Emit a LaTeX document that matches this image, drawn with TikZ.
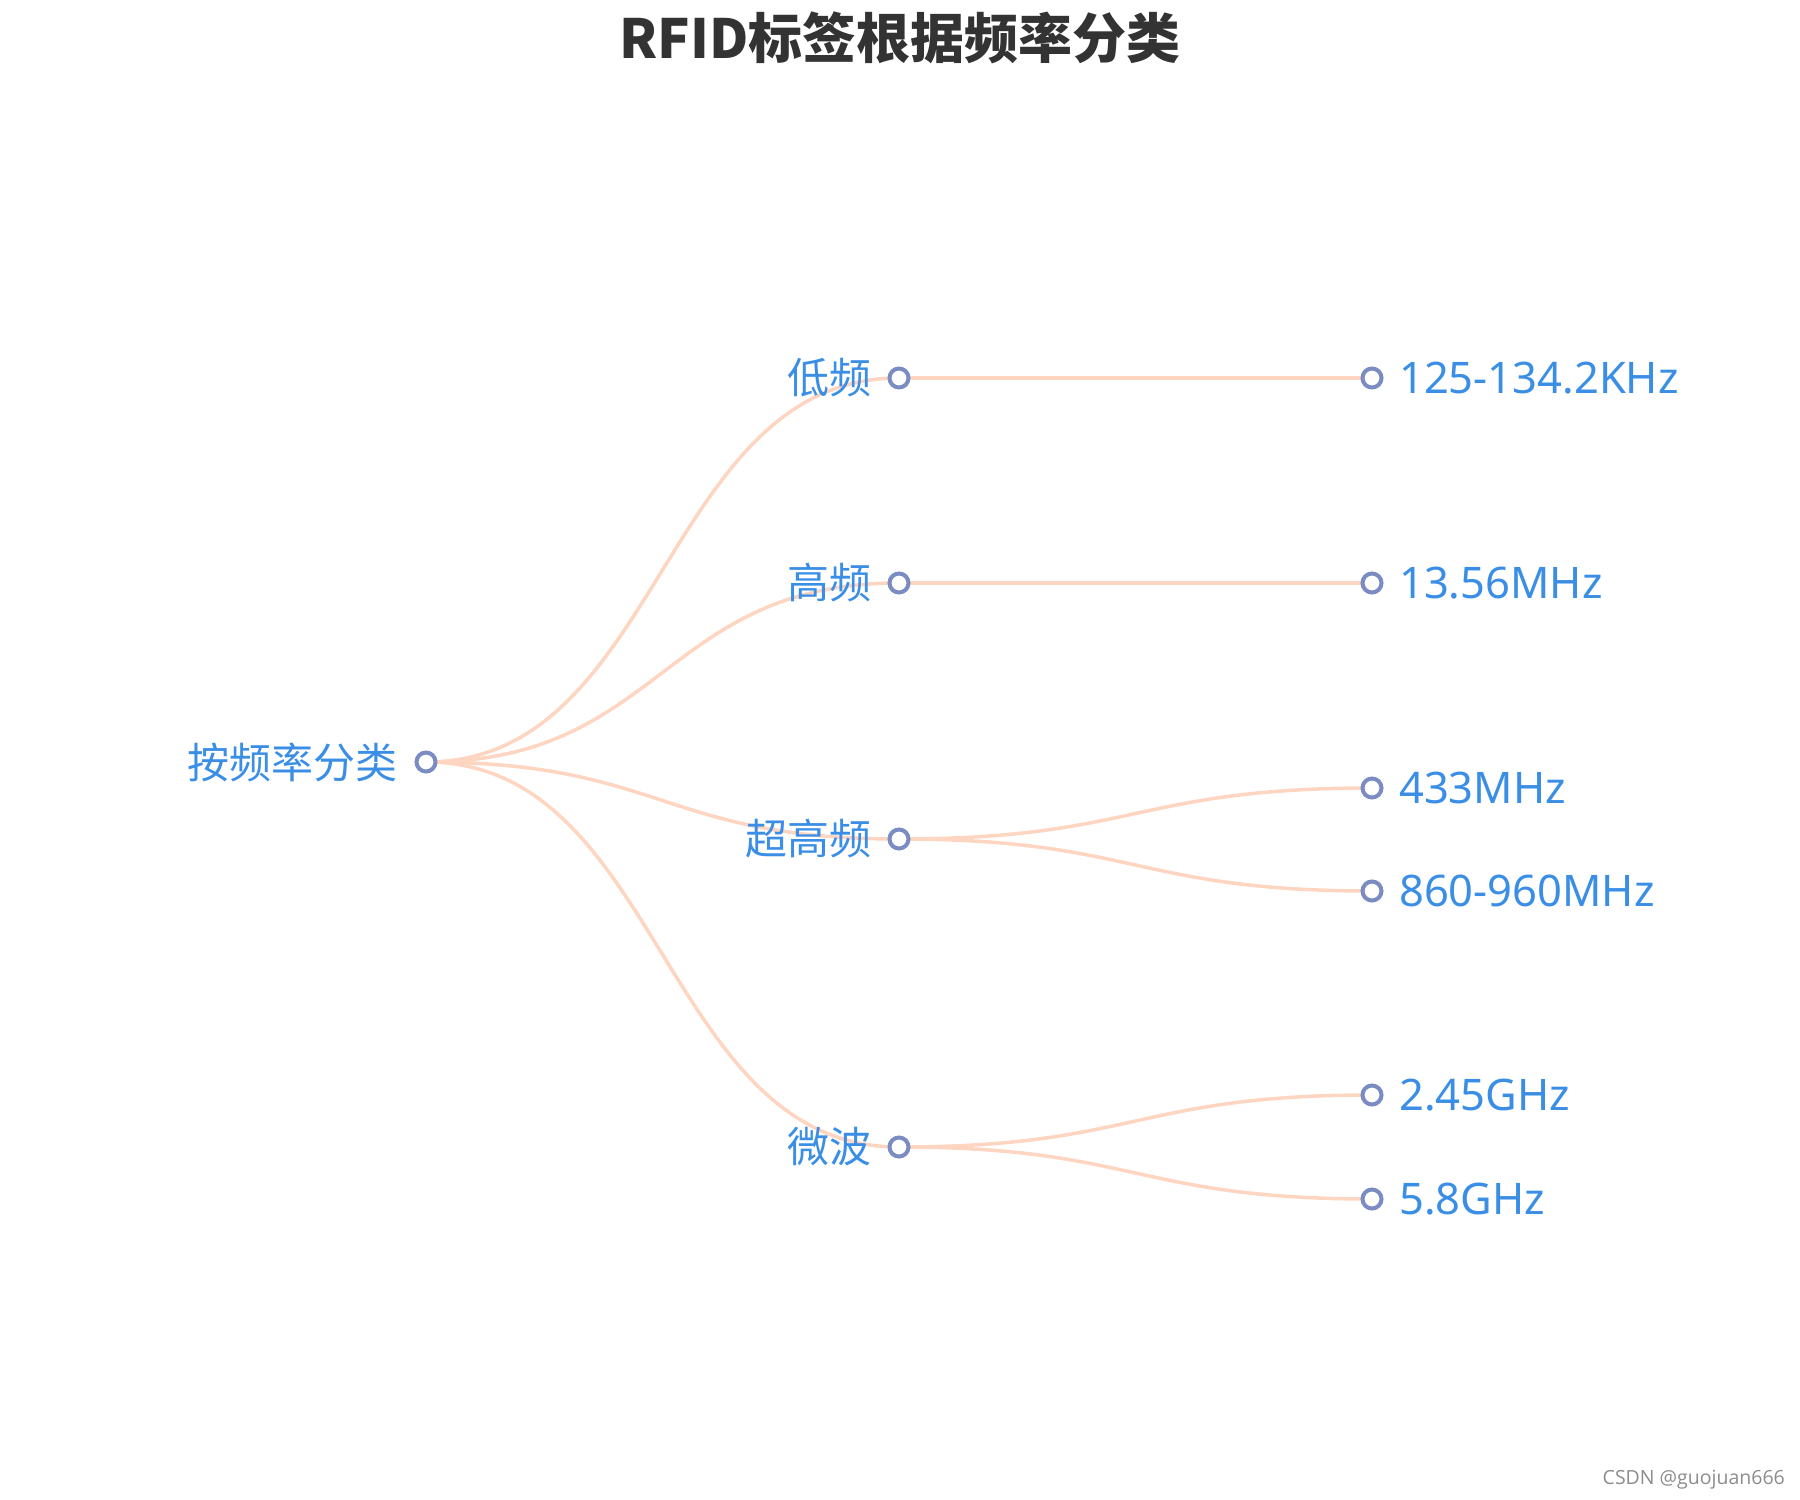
\documentclass[tikz,border=0pt]{standalone}
\usepackage{fontspec}
\setmainfont{Noto Sans CJK SC}
\newfontfamily\wmfont{Open Sans}
\newfontfamily\latfont{Noto Sans}
\definecolor{txtblue}{HTML}{3A8EE6}
\definecolor{ringc}{HTML}{7A8CC2}
\definecolor{edgec}{HTML}{FDD5C0}
\definecolor{titlec}{HTML}{333333}
\begin{document}
\begin{tikzpicture}[x=1pt,y=-1pt,
  dot/.style={circle,draw=ringc,fill=white,line width=4pt,minimum size=19pt,inner sep=0pt},
  lbl/.style={text=txtblue,inner sep=0pt,font=\fontsize{42}{50}\selectfont},
  leaf/.style={text=txtblue,inner sep=0pt,font=\latfont\fontsize{43.5}{50}\selectfont},
  edge/.style={draw=edgec,line width=3.5pt}]
\useasboundingbox (0,0) rectangle (1800,1500);
\node[font=\fontsize{54}{62}\selectfont\bfseries,text=titlec,inner sep=0pt] (title) at (900,38) {RFID标签根据频率分类};
% node coordinates
\coordinate (pr) at (426,762);
\coordinate (p1) at (899,378);
\coordinate (p2) at (899,583);
\coordinate (p3) at (899,839);
\coordinate (p4) at (899,1147);
\coordinate (q1) at (1372,378);
\coordinate (q2) at (1372,583);
\coordinate (q3) at (1372,788);
\coordinate (q4) at (1372,891);
\coordinate (q5) at (1372,1095);
\coordinate (q6) at (1372,1199);
% edges (ECharts-like curves)
\draw[edge] (pr) .. controls (662.5,762) and (662.5,378) .. (p1);
\draw[edge] (pr) .. controls (662.5,762) and (662.5,583) .. (p2);
\draw[edge] (pr) .. controls (662.5,762) and (662.5,839) .. (p3);
\draw[edge] (pr) .. controls (662.5,762) and (662.5,1147) .. (p4);
\draw[edge] (p1) .. controls (1135.5,378) and (1135.5,378) .. (q1);
\draw[edge] (p2) .. controls (1135.5,583) and (1135.5,583) .. (q2);
\draw[edge] (p3) .. controls (1135.5,839) and (1135.5,788) .. (q3);
\draw[edge] (p3) .. controls (1135.5,839) and (1135.5,891) .. (q4);
\draw[edge] (p4) .. controls (1135.5,1147) and (1135.5,1095) .. (q5);
\draw[edge] (p4) .. controls (1135.5,1147) and (1135.5,1199) .. (q6);
% dots
\node[dot] (nr) at (pr) {};
\node[dot] (n1) at (p1) {};
\node[dot] (n2) at (p2) {};
\node[dot] (n3) at (p3) {};
\node[dot] (n4) at (p4) {};
\node[dot] (m1) at (q1) {};
\node[dot] (m2) at (q2) {};
\node[dot] (m3) at (q3) {};
\node[dot] (m4) at (q4) {};
\node[dot] (m5) at (q5) {};
\node[dot] (m6) at (q6) {};
% labels
\node[lbl,anchor=east] (tr) at ([xshift=-28pt]pr) {按频率分类};
\node[lbl,anchor=east] (t1) at ([xshift=-27pt]p1) {低频};
\node[lbl,anchor=east] (t2) at ([xshift=-27pt]p2) {高频};
\node[lbl,anchor=east] (t3) at ([xshift=-27pt]p3) {超高频};
\node[lbl,anchor=east] (t4) at ([xshift=-27pt]p4) {微波};
\node[leaf,anchor=west] (s1) at ([xshift=27pt]q1) {125-134.2KHz};
\node[leaf,anchor=west] (s2) at ([xshift=27pt]q2) {13.56MHz};
\node[leaf,anchor=west] (s3) at ([xshift=27pt]q3) {433MHz};
\node[leaf,anchor=west] (s4) at ([xshift=27pt]q4) {860-960MHz};
\node[leaf,anchor=west] (s5) at ([xshift=27pt]q5) {2.45GHz};
\node[leaf,anchor=west] (s6) at ([xshift=27pt]q6) {5.8GHz};
\node[anchor=east,inner sep=0pt,text=black!45,font=\wmfont\fontsize{19.5}{23}\selectfont] (wm) at (1785,1480) {CSDN @guojuan666};
\end{tikzpicture}
\end{document}
